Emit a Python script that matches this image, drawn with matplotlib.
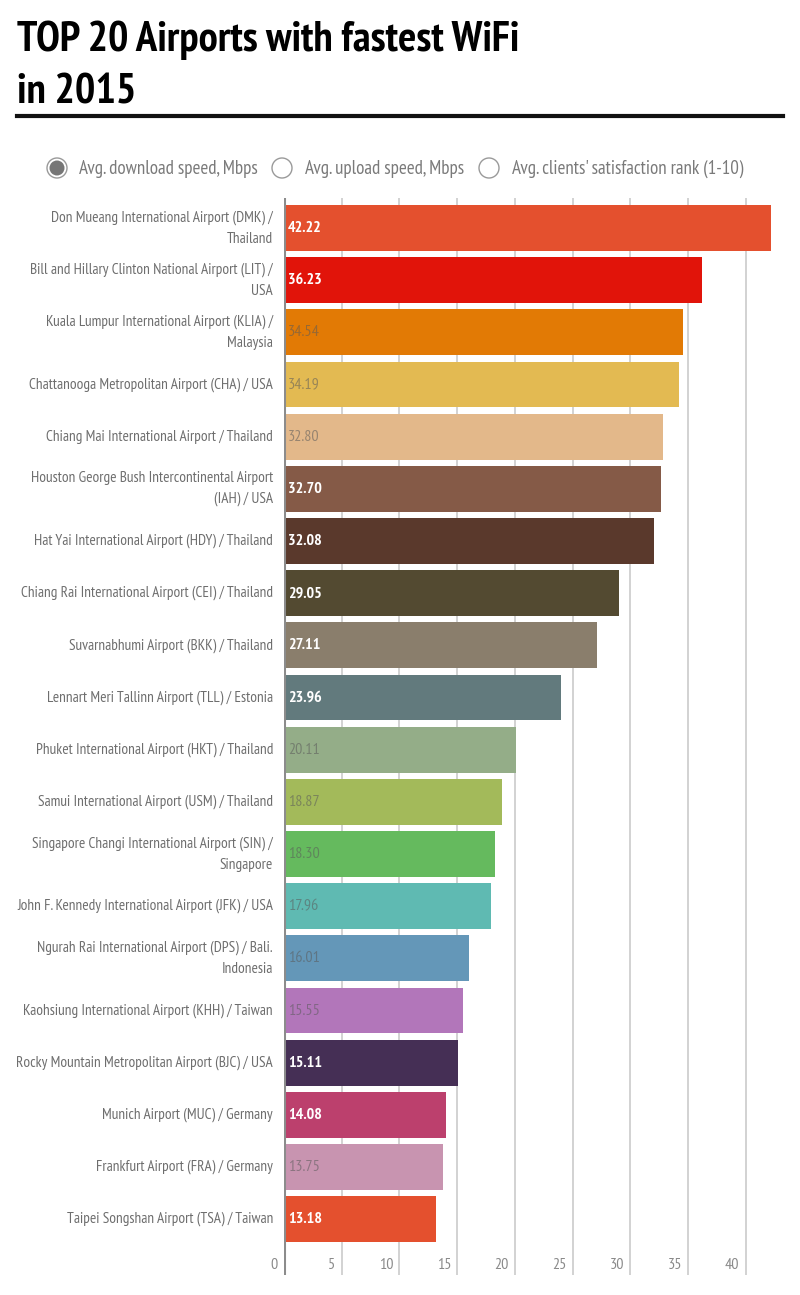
import matplotlib
matplotlib.use('Agg')
import matplotlib.pyplot as plt
from matplotlib import font_manager
from matplotlib.patches import Circle
from matplotlib.lines import Line2D
import matplotlib.transforms as mtransforms

# ---------------- data ----------------
airports = [
    "Don Mueang International Airport (DMK) /\nThailand",
    "Bill and Hillary Clinton National Airport (LIT) /\nUSA",
    "Kuala Lumpur International Airport (KLIA) /\nMalaysia",
    "Chattanooga Metropolitan Airport (CHA) / USA",
    "Chiang Mai International Airport / Thailand",
    "Houston George Bush Intercontinental Airport\n(IAH) / USA",
    "Hat Yai International Airport (HDY) / Thailand",
    "Chiang Rai International Airport (CEI) / Thailand",
    "Suvarnabhumi Airport (BKK) / Thailand",
    "Lennart Meri Tallinn Airport (TLL) / Estonia",
    "Phuket International Airport (HKT) / Thailand",
    "Samui International Airport (USM) / Thailand",
    "Singapore Changi International Airport (SIN) /\nSingapore",
    "John F. Kennedy International Airport (JFK) / USA",
    "Ngurah Rai International Airport (DPS) / Bali.\nIndonesia",
    "Kaohsiung International Airport (KHH) / Taiwan",
    "Rocky Mountain Metropolitan Airport (BJC) / USA",
    "Munich Airport (MUC) / Germany",
    "Frankfurt Airport (FRA) / Germany",
    "Taipei Songshan Airport (TSA) / Taiwan",
]
speeds = [42.22, 36.23, 34.54, 34.19, 32.80, 32.70, 32.08, 29.05, 27.11, 23.96,
          20.11, 18.87, 18.30, 17.96, 16.01, 15.55, 15.11, 14.08, 13.75, 13.18]
colors = ["#E4502E", "#E1140A", "#E27A05", "#E3BA52", "#E3B88A", "#855A47",
          "#5A392C", "#534A31", "#8A7E6C", "#627A7D", "#94AD88", "#A3BA5A",
          "#65BA5E", "#5FBAB2", "#6497B8", "#B276BA", "#452F55", "#BC406D",
          "#C894B0", "#E4502E"]
white_value = [True, True, False, False, False, True, True, True, True, True,
               False, False, False, False, False, False, True, True, False, True]
ticks = [0, 5, 10, 15, 20, 25, 30, 35, 40]
title_lines = ["TOP 20 Airports with fastest WiFi", "in 2015"]
legend_items = ["Avg. download speed, Mbps", "Avg. upload speed, Mbps",
                "Avg. clients' satisfaction rank (1-10)"]

# ---------------- fonts ----------------
names = {f.name for f in font_manager.fontManager.ttflist}
FONT = 'PT Sans Narrow' if 'PT Sans Narrow' in names else 'DejaVu Sans'
plt.rcParams['font.family'] = [FONT, 'DejaVu Sans']

W, H = 800, 1295
fig = plt.figure(figsize=(W / 100, H / 100), dpi=100)
fig.patch.set_facecolor('white')
renderer = fig.canvas.get_renderer()
pix = mtransforms.IdentityTransform()


def fit_size(text, target_px, size, weight='normal'):
    t = fig.text(0, 0, text, fontsize=size, fontweight=weight)
    w = t.get_window_extent(renderer=renderer).width
    t.remove()
    return size * target_px / w


# ---------------- title ----------------
tsize = min(32, fit_size(title_lines[0], 503, 30, 'bold'))
fig.text(17 / W, 1 - 51 / H, title_lines[0], fontsize=tsize, fontweight='bold',
         color='black', va='baseline', ha='left')
fig.text(17 / W, 1 - 103 / H, title_lines[1], fontsize=tsize, fontweight='bold',
         color='black', va='baseline', ha='left')
fig.add_artist(Line2D([17 / W, 783 / W], [1 - 115.5 / H] * 2, lw=3.0, color='#111111'))

# ---------------- legend (radio buttons) ----------------
lsize = min(14, fit_size(legend_items[0], 178, 12.5))
circ_x = [57, 282, 489]
text_x = [79, 305, 512]
ly = H - 168
for i, (cx, tx, lab) in enumerate(zip(circ_x, text_x, legend_items)):
    fig.add_artist(Circle((cx, ly), 10, transform=pix, facecolor='white',
                          edgecolor='#9a9a9a', lw=1.0))
    if i == 0:
        fig.add_artist(Circle((cx, ly), 7.5, transform=pix, facecolor='#767676',
                              edgecolor='none'))
    fig.text(tx / W, 1 - 169 / H, lab, fontsize=lsize, color='#7a7a7a',
             va='center', ha='left')

# ---------------- bar chart ----------------
ax = fig.add_axes([284 / W, 1 - 1275 / H, (786 - 284) / W, (1275 - 198) / H])
n = len(speeds)
ypos = list(range(n))
ax.barh(ypos, speeds, height=0.88, color=colors, zorder=2)
ax.set_xlim(0, 43.5)
ax.set_ylim(n - 1 + 1.07, -0.575)
for t in ticks[1:]:
    ax.axvline(t, color='#cfcfcf', lw=1.3, zorder=1)
ax.axvline(0, color='#8c8c8c', lw=2.2, zorder=3)
for s in ax.spines.values():
    s.set_visible(False)
ax.set_xticks([])
ax.set_yticks([])
ax.patch.set_alpha(0)

# axis tick labels at the bottom, left of grid lines
tick_tr = mtransforms.offset_copy(ax.transData, fig=fig, x=-6, y=0, units='dots')
for t in ticks:
    ax.text(t, n - 1 + 0.88, str(t), transform=tick_tr, fontsize=11.5,
            color='#8a8a8a', ha='right', va='center')

# category labels
widest = "John F. Kennedy International Airport (JFK) / USA"
csize = min(12, fit_size(widest, 256, 10.5))
lab_tr = mtransforms.offset_copy(ax.transData, fig=fig, x=-11, y=0, units='dots')
for i, lab in enumerate(airports):
    ax.text(0, i, lab, transform=lab_tr, fontsize=csize, color='#6e6e6e',
            ha='right', va='center', linespacing=1.6, multialignment='right')

# value labels inside bars
val_tr = mtransforms.offset_copy(ax.transData, fig=fig, x=4, y=0, units='dots')
for i, (v, wv) in enumerate(zip(speeds, white_value)):
    if wv:
        ax.text(0, i, f"{v:.2f}", transform=val_tr, fontsize=csize + 0.5,
                color='white', fontweight='bold', ha='left', va='center', zorder=4)
    else:
        ax.text(0, i, f"{v:.2f}", transform=val_tr, fontsize=csize + 0.5,
                color='#5a5a5a', alpha=0.55, ha='left', va='center', zorder=4)

fig.savefig('out.png', dpi=100, facecolor='white')
